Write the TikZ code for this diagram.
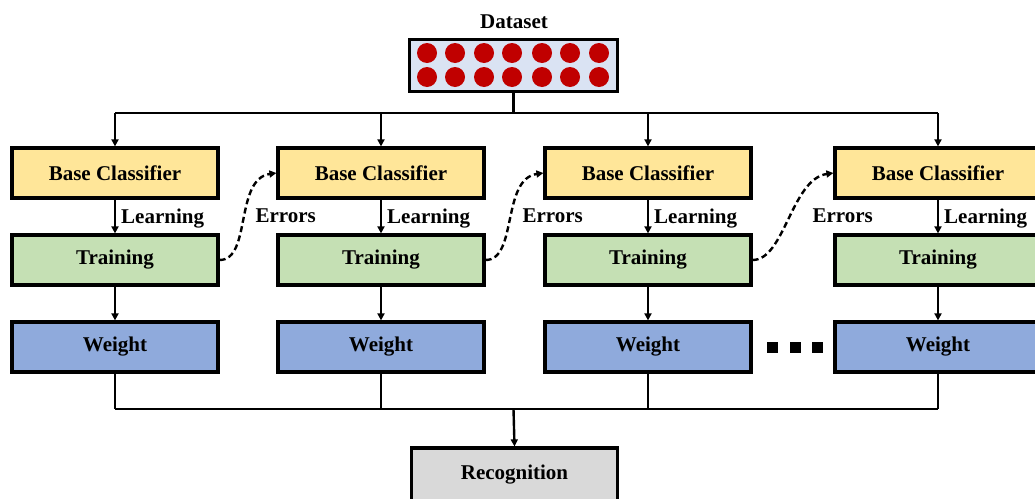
\documentclass[tikz,border=0pt]{standalone}
\usepackage{fontspec}
\setmainfont{Liberation Serif}
\usetikzlibrary{arrows.meta}
\definecolor{bcfill}{HTML}{FFE699}
\definecolor{trfill}{HTML}{C5E0B4}
\definecolor{wtfill}{HTML}{8FAADC}
\definecolor{rcfill}{HTML}{D9D9D9}
\definecolor{dsfill}{HTML}{DAE3F3}
\definecolor{dotred}{HTML}{C00000}
\tikzset{
  txt/.style={font=\fontsize{21}{24}\selectfont\bfseries},
  block/.style={draw=black, line width=3.2pt, minimum width=206pt, minimum height=50pt,
    inner sep=0pt, txt},
  bc/.style={block, fill=bcfill},
  tr/.style={block, fill=trfill},
  wt/.style={block, fill=wtfill},
  link/.style={line width=2.4pt},
  arr/.style={link, -{Triangle[length=7pt,width=7pt]}},
  err/.style={line width=2.4pt, dash pattern=on 6pt off 3.5pt, -{Triangle[length=7pt,width=7pt]}},
  lbl/.style={txt, inner sep=0pt},
  dot/.style={circle, fill=dotred, minimum size=20pt, inner sep=0pt},
  sq/.style={fill=black, minimum size=11pt, inner sep=0pt}
}
\begin{document}
\begin{tikzpicture}[x=1pt,y=-1pt]
\useasboundingbox (0,0) rectangle (1035,498);
\clip (0,0) rectangle (1035,498);

% dataset
\node[lbl] (dslabel) at (514,22) {Dataset};
\node[draw=black, line width=3.2pt, fill=dsfill, minimum width=208pt, minimum height=52pt, inner sep=0pt] (ds) at (513.5,65.5) {};
\foreach \i/\x in {1/427,2/455,3/484,4/512,5/542,6/570,7/599}{
  \node[dot] (da\i) at (\x,53) {};
  \node[dot] (db\i) at (\x,77) {};
}
\coordinate (top) at (513.5,113);
\draw[link] (ds.south) -- (top);

% columns
\foreach \c/\x in {1/115,2/381,3/648,4/938}{
  \node[bc] (bc\c) at (\x,173) {Base Classifier};
  \node[tr] (tr\c) at (\x,260) {Training};
  \node[wt] (wt\c) at (\x,347) {Weight};
  \coordinate (t\c) at (\x,113);
  \coordinate (b\c) at (\x,409);
  \draw[arr] (t\c) -- (bc\c.north);
  \draw[arr] (bc\c.south) -- node[lbl, right=5pt, pos=0.55] (ln\c) {Learning} (tr\c.north);
  \draw[arr] (tr\c.south) -- (wt\c.north);
  \draw[link] (wt\c.south) -- (b\c);
}
\draw[link] (t1) -- (t4);
\draw[link] (b1) -- (b4);

% error feedback between consecutive stages
\foreach \a/\b in {1/2,2/3,3/4}{
  \draw[err] (tr\a.east) .. controls ([xshift=32pt]tr\a.east) and ([xshift=-42pt,yshift=-6pt]bc\b.west) .. (bc\b.west);
  \node[lbl, anchor=west] (er\a) at ([xshift=-21pt,yshift=-43pt]bc\b.west) {Errors};
}

% ellipsis
\node[sq] (s1) at (772,347) {};
\node[sq] (s2) at (795,347) {};
\node[sq] (s3) at (817,347) {};

% recognition
\node[block, fill=rcfill, minimum height=54pt] (rec) at (514.5,475) {Recognition};
\coordinate (mid) at (513.5,409);
\draw[arr] (mid) -- (rec.north);
\end{tikzpicture}
\end{document}
